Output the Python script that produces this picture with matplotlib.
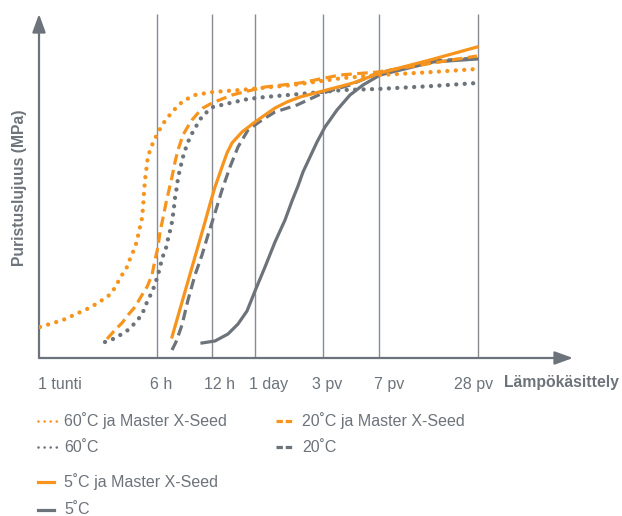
import matplotlib
matplotlib.use("Agg")
import matplotlib.pyplot as plt
from matplotlib.lines import Line2D

plt.rcParams['font.family'] = ['Liberation Sans', 'DejaVu Sans']

# schematic units: x = distance along the time axis, y = strength (no scale in source)
grid_x = [118, 173, 216, 284, 340, 439]
tick_x = [21, 122, 180, 230, 288, 350, 435]
tick_labels = ["1 tunti", "6 h", "12 h", "1 day", "3 pv", "7 pv", "28 pv"]

x60xs = [1, 24, 48, 59, 66, 72, 75, 79, 83, 88, 91, 94, 97, 99, 101, 103, 104, 105, 106,
         108, 109, 112, 115, 119, 123, 133, 144, 156, 174, 201, 254, 304, 341, 394, 438]
y60xs = [31, 38, 49, 55, 60, 64, 69, 76, 83, 91, 99, 106, 114, 122, 131, 140, 150, 165, 178,
         194, 202, 210, 218, 225, 233, 246, 257, 263, 266, 268, 273, 280, 283, 286, 289]

x60 = [66, 74, 83, 89, 96, 101, 105, 108, 112, 115, 119, 122, 124, 127, 129, 131, 133, 134, 135,
       136, 138, 139, 141, 143, 145, 148, 151, 155, 159, 164, 168, 174, 191, 209, 226, 261, 304,
       339, 394, 438]
y60 = [16, 19, 24, 28, 35, 41, 48, 56, 64, 71, 83, 95, 102, 110, 119, 127, 136, 143, 151,
       160, 172, 180, 189, 197, 205, 213, 221, 228, 235, 243, 246, 251, 255, 259, 261, 264, 268,
       269, 272, 275]

x20xs = [68, 76, 83, 89, 96, 103, 108, 113, 116, 119, 121, 124, 127, 130, 133, 136, 139, 144,
         148, 153, 159, 164, 173, 193, 209, 226, 261, 301, 339, 394, 438]
y20xs = [19, 28, 35, 43, 51, 63, 71, 83, 98, 111, 126, 140, 155, 168, 181, 196, 208, 223,
         230, 238, 245, 250, 255, 263, 267, 271, 275, 283, 286, 295, 302]

x20 = [133, 137, 143, 149, 156, 163, 169, 176, 183, 191, 199, 209, 223, 236, 258, 284, 311,
       339, 394, 438]
y20 = [8, 16, 33, 58, 83, 103, 123, 145, 168, 191, 211, 228, 238, 246, 253, 265, 273,
       285, 297, 300]

x5xs = [133, 166, 171, 176, 183, 188, 193, 203, 216, 226, 236, 248, 261, 284, 314, 341, 391, 438]
y5xs = [21, 136, 154, 171, 191, 205, 215, 226, 236, 243, 250, 256, 261, 267, 275, 285, 298, 311]

x5 = [163, 176, 189, 199, 208, 216, 226, 236, 246, 253, 259, 264, 278, 286, 298, 311, 324, 341,
      394, 438]
y5 = [15, 17, 24, 34, 47, 67, 91, 116, 138, 157, 172, 186, 216, 231, 248, 263, 273, 283,
      296, 299]

orange = "#F7941D"
grey = "#6D737A"
gridc = "#878C92"
textc = "#6D737A"

dotted = (0, (0.01, 1.95))
dashed = (0, (3.3, 1.7))

W, H = 622, 516
fig = plt.figure(figsize=(W / 100, H / 100), dpi=100)
ax = fig.add_axes([39 / W, (H - 358) / H, 534 / W, 346 / H])
ax.set_xlim(0, 534)
ax.set_ylim(0, 346)
for s in ax.spines.values():
    s.set_visible(False)
ax.set_yticks([])

ax.vlines(grid_x, 0, 344, color=gridc, lw=1.0, zorder=1)

for tip in [(0, 344), (534, 0)]:
    ax.annotate("", xy=tip, xytext=(0, 0), annotation_clip=False,
                arrowprops=dict(arrowstyle="-|>,head_length=0.55,head_width=0.2",
                                mutation_scale=20, color=grey, lw=1.6,
                                shrinkA=0, shrinkB=0))

ax.plot(x60, y60, color=grey, lw=3.1, ls=dotted, dash_capstyle="round", zorder=3)
ax.plot(x20, y20, color=grey, lw=2.3, ls=dashed, zorder=3)
ax.plot(x5, y5, color=grey, lw=2.3, zorder=3, solid_joinstyle="round")
ax.plot(x60xs, y60xs, color=orange, lw=3.1, ls=dotted, dash_capstyle="round", zorder=4)
ax.plot(x20xs, y20xs, color=orange, lw=2.3, ls=dashed, zorder=4)
ax.plot(x5xs, y5xs, color=orange, lw=2.3, zorder=4, solid_joinstyle="round")

ax.set_xticks(tick_x, tick_labels)
ax.tick_params(axis="x", length=0, pad=14, labelsize=11.5, labelcolor=textc)

fig.text(619 / W, 1 - 383 / H, "Lämpökäsittely", ha="right", va="center",
         fontsize=11.3, fontweight="bold", color=textc)
fig.text(20 / W, 1 - 188 / H, "Puristuslujuus (MPa)", ha="center", va="center",
         rotation=90, fontsize=11.3, fontweight="bold", color=textc)

# legend drawn by hand to keep the uneven row spacing of the original
leg_dot = (0, (0.01, 2.3))
leg_dash = (0, (2.0, 0.9))
legend = [
    ("60˚C ja Master X-Seed", orange, leg_dot, 38, 57, 421, 1.9),
    ("60˚C", grey, leg_dot, 38, 57, 447, 1.9),
    ("5˚C ja Master X-Seed", orange, "-", 38, 54, 482, 2.3),
    ("5˚C", grey, "-", 38, 54, 510, 2.3),
    ("20˚C ja Master X-Seed", orange, leg_dash, 276, 292, 421, 2.3),
    ("20˚C", grey, leg_dash, 276, 292, 447, 2.3),
]
for label, c, ls, x0, x1, y, lw in legend:
    ln = Line2D([x0 / W, x1 / W], [1 - y / H, 1 - y / H], transform=fig.transFigure,
                color=c, lw=lw, ls=ls, dash_capstyle="round" if ls is leg_dot else "butt")
    fig.add_artist(ln)
    tx = 64 if x0 < 100 else 302
    fig.text(tx / W, 1 - y / H, label, ha="left", va="center", fontsize=11.5, color=textc)

fig.savefig("out.png", dpi=100)
